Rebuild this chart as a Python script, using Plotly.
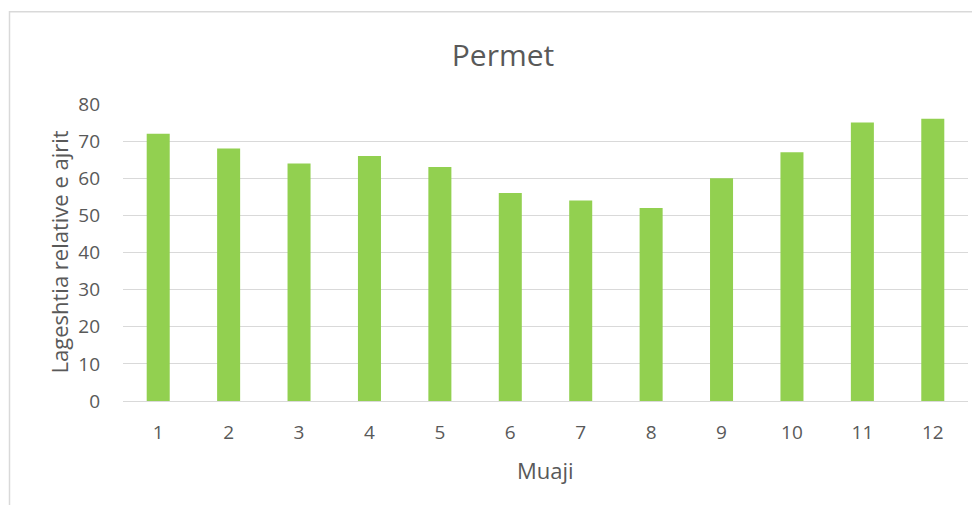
import plotly.graph_objects as go

months = ["1", "2", "3", "4", "5", "6", "7", "8", "9", "10", "11", "12"]
humidity = [72, 68, 64, 66, 63, 56, 54, 52, 60, 67, 75, 76]
y_ticks = [0, 10, 20, 30, 40, 50, 60, 70, 80]

FONT = "Open Sans"
TXT = "#595959"
GRID = "#D9D9D9"
OFF = 8  # page body margin

fig = go.Figure(go.Bar(x=months, y=humidity, marker=dict(color="#92D050", line=dict(width=0)),
                       hoverinfo="x+y"))

fig.update_layout(
    width=980, height=505,
    margin=dict(l=123 - OFF, r=980 - (968 - OFF), t=103.5 - OFF, b=505 - (401 - OFF)),
    paper_bgcolor="white", plot_bgcolor="white",
    bargap=0.673,
    showlegend=False,
    title=dict(text="Permet", x=(503 - OFF)/980, xanchor="center", y=1-(55 - OFF)/505, yanchor="middle",
               font=dict(family=FONT, size=30, color=TXT)),
    xaxis=dict(type="category", showgrid=False, showline=True, linecolor=GRID, linewidth=1,
               ticks="", tickfont=dict(family=FONT, size=19, color=TXT), ticklabelstandoff=14),
    yaxis=dict(range=[0, 80], tickvals=y_ticks, showgrid=True, gridcolor=GRID, gridwidth=1,
               zeroline=False, showline=False, ticks="",
               tickfont=dict(family=FONT, size=19, color=TXT), ticklabelstandoff=22),
    annotations=[
        dict(text="Lageshtia relative e ajrit", xref="paper", yref="paper", x=(58-123)/845, y=0.5,
             textangle=-90, showarrow=False, xanchor="center", yanchor="middle",
             font=dict(family=FONT, size=22, color=TXT)),
        dict(text="Muaji", xref="paper", yref="paper", x=0.5, y=(401-470)/297.5,
             showarrow=False, xanchor="center", yanchor="middle",
             font=dict(family=FONT, size=22, color=TXT)),
    ],
    shapes=[dict(type="rect", xref="paper", yref="paper", x0=(9.5-123)/845, x1=1.03,
                 y0=-0.4, y1=(401-11)/297.5, line=dict(color=GRID, width=1.5), layer="below")],
)

fig.write_html("out.html")
